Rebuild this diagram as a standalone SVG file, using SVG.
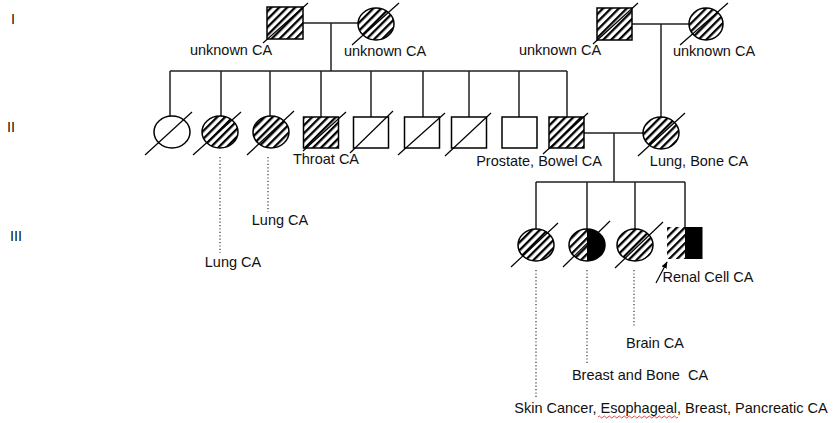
<svg xmlns="http://www.w3.org/2000/svg" width="833" height="423" viewBox="0 0 833 423">
<defs>
<pattern id="hatch" width="5.6" height="5.6" patternUnits="userSpaceOnUse" patternTransform="rotate(45)">
<rect x="0" y="0" width="2.3" height="5.6" fill="#000"/>
</pattern>
<marker id="arr" viewBox="0 0 10 10" refX="9" refY="5" markerWidth="7" markerHeight="7" orient="auto" markerUnits="userSpaceOnUse">
<path d="M0,1 L10,5 L0,9 Z" fill="#000"/>
</marker>
</defs>
<style>
.sh{stroke:#000;stroke-width:1.5;}
.open{fill:#fff;}
.hat{fill:url(#hatch);}
.dec{stroke:#000;stroke-width:1.2;fill:none;}
.ln{stroke:#222;stroke-width:1.5;fill:none;}
.dot{stroke:#333;stroke-width:1.2;stroke-dasharray:1.2 2.2;fill:none;}
text{font-family:"Liberation Sans",Arial,sans-serif;font-size:14.5px;fill:#111;}
.c{text-anchor:middle;}
</style>
<rect width="833" height="423" fill="#fff"/>

<g id="connectors">
<path class="ln" d="M303 23H358M331 23V71M170 71H567"/>
<path class="ln" d="M170 71V116M221 71V116M270 71V116M321 71V117M371 71V117M423 71V117M469 71V117M519 71V117M567 71V117"/>
<path class="ln" d="M632 24H689M661 24V117"/>
<path class="ln" d="M584 133H643M614 133V182M536 182H685M536 182V229M587 182V229M635 182V229M685 182V227"/>
<path class="dot" d="M220 157V253M268 157V212M536 270V397M587 270V365M634 270V327"/>
<line x1="656" y1="283" x2="667" y2="262" stroke="#000" stroke-width="1.2" marker-end="url(#arr)"/>
<path d="M598 417q1.25 -2 2.5 0t2.5 0t2.5 0t2.5 0t2.5 0t2.5 0t2.5 0t2.5 0t2.5 0t2.5 0t2.5 0t2.5 0t2.5 0t2.5 0t2.5 0t2.5 0t2.5 0t2.5 0t2.5 0t2.5 0t2.5 0t2.5 0t2.5 0t2.5 0t2.5 0t2.5 0t2.5 0t2.5 0t2.5 0t2.5 0t2.5 0t2.5 0" stroke="#e03030" stroke-width="0.9" fill="none"/>
</g>

<g id="gen-labels">
<text x="11" y="24">I</text>
<text x="7" y="132">II</text>
<text x="10" y="241">III</text>
</g>

<g id="I-1">
<rect class="sh hat" x="267" y="7" width="36" height="32"/>
<line class="dec" x1="263" y1="43" x2="308" y2="3"/>
<text class="c" x="231" y="55">unknown CA</text>
</g>
<g id="I-2">
<ellipse class="sh hat" cx="376" cy="24" rx="18" ry="16"/>
<line class="dec" x1="352" y1="45" x2="399" y2="3"/>
<text class="c" x="385" y="56">unknown CA</text>
</g>
<g id="I-3">
<rect class="sh hat" x="597" y="8" width="35" height="32"/>
<line class="dec" x1="593" y1="44" x2="638" y2="3"/>
<text class="c" x="560" y="55">unknown CA</text>
</g>
<g id="I-4">
<ellipse class="sh hat" cx="706" cy="24" rx="17" ry="16"/>
<line class="dec" x1="680" y1="45" x2="728" y2="3"/>
<text class="c" x="714" y="56">unknown CA</text>
</g>

<g id="II-1">
<ellipse class="sh open" cx="172" cy="132" rx="18" ry="16"/>
<line class="dec" x1="145" y1="155" x2="192" y2="112"/>
</g>
<g id="II-2">
<ellipse class="sh hat" cx="220" cy="132" rx="18" ry="16"/>
<line class="dec" x1="193" y1="155" x2="241" y2="112"/>
</g>
<g id="II-3">
<ellipse class="sh hat" cx="271" cy="132" rx="18" ry="16"/>
<line class="dec" x1="247" y1="155" x2="294" y2="111"/>
</g>
<g id="II-4">
<rect class="sh hat" x="303.5" y="117" width="35" height="31"/>
<line class="dec" x1="303" y1="151" x2="346" y2="112"/>
<text class="c" x="326" y="164">Throat CA</text>
</g>
<g id="II-5">
<rect class="sh open" x="353.5" y="117" width="35" height="31"/>
<line class="dec" x1="350" y1="153" x2="393" y2="111"/>
</g>
<g id="II-6">
<rect class="sh open" x="404.5" y="117" width="35" height="31"/>
<line class="dec" x1="398" y1="155" x2="445" y2="113"/>
</g>
<g id="II-7">
<rect class="sh open" x="451.5" y="117" width="35" height="31"/>
<line class="dec" x1="445" y1="156" x2="491" y2="113"/>
</g>
<g id="II-8">
<rect class="sh open" x="502" y="117" width="35" height="31"/>
</g>
<g id="II-9">
<rect class="sh hat" x="549" y="117" width="35" height="31"/>
<line class="dec" x1="543" y1="154" x2="588" y2="113"/>
<text class="c" x="539" y="166">Prostate, Bowel CA</text>
</g>
<g id="II-10">
<ellipse class="sh hat" cx="661" cy="133" rx="18" ry="16"/>
<line class="dec" x1="638" y1="156" x2="685" y2="113"/>
<text class="c" x="699" y="166">Lung, Bone CA</text>
</g>
<g id="II-2-note"><text class="c" x="233" y="267">Lung CA</text></g>
<g id="II-3-note"><text class="c" x="280" y="225">Lung CA</text></g>

<g id="III-1">
<ellipse class="sh hat" cx="536" cy="245" rx="18" ry="16"/>
<line class="dec" x1="511" y1="267" x2="558" y2="223"/>
<text class="c" x="671" y="413">Skin Cancer, Esophageal, Breast, Pancreatic CA</text>
</g>
<g id="III-2">
<path class="hat" d="M587 229A18 16 0 0 0 587 261Z"/>
<path fill="#000" d="M587 229A18 16 0 0 1 587 261Z"/>
<ellipse class="sh" fill="none" cx="587" cy="245" rx="18" ry="16"/>
<line class="dec" x1="563" y1="267" x2="610" y2="221"/>
<text class="c" x="640" y="380" xml:space="preserve">Breast and Bone  CA</text>
</g>
<g id="III-3">
<ellipse class="sh hat" cx="635" cy="245" rx="18" ry="16"/>
<line class="dec" x1="615" y1="268" x2="663" y2="222"/>
<text class="c" x="655" y="348">Brain CA</text>
</g>
<g id="III-4">
<rect class="hat" x="667" y="227" width="18" height="32"/>
<rect fill="#000" x="685" y="227" width="17.5" height="32"/>
<text class="c" x="708" y="282">Renal Cell CA</text>
</g>
</svg>
